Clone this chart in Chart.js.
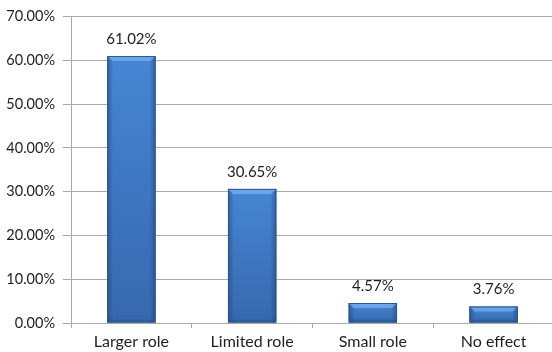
<!DOCTYPE html>
<html>
<head>
<meta charset="utf-8">
<script src="https://cdn.jsdelivr.net/npm/chart.js@4.4.1/dist/chart.umd.min.js"></script>
<style>
  html, body { margin: 0; padding: 0; background: #fff; overflow: hidden; }
  #wrap { position: relative; width: 554px; height: 352px; }
</style>
</head>
<body>
<div id="wrap"><canvas id="chart"></canvas></div>
<script>
// Dades llegides del gràfic
const categories = ['Larger role', 'Limited role', 'Small role', 'No effect'];
const shares     = [61.02, 30.65, 4.57, 3.76];
const yTicks     = [0, 10, 20, 30, 40, 50, 60, 70];

const FONT = "Lato, 'Open Sans', sans-serif";
const GRID = '#a9a9a9';
const TEXT = '#1e1e1e';

// Bisell estil Excel sobre cada barra
const bevelPlugin = {
  id: 'bevel',
  afterDatasetsDraw(chart) {
    const ctx = chart.ctx;
    chart.getDatasetMeta(0).data.forEach(bar => {
      const { x, y, base, width } = bar.getProps(['x', 'y', 'base', 'width'], true);
      const l = x - width / 2, r = x + width / 2;
      const h = base - y;
      const b = Math.min(5, h / 2);
      ctx.save();
      // cos
      const g = ctx.createLinearGradient(0, y, 0, base);
      g.addColorStop(0, '#4686d3');
      g.addColorStop(1, '#3768ae');
      ctx.fillStyle = g;
      ctx.fillRect(l, y, width, h);
      // vores laterals
      const gl = ctx.createLinearGradient(l, 0, l + 6, 0);
      gl.addColorStop(0, 'rgba(25,60,115,0.5)');
      gl.addColorStop(1, 'rgba(25,60,115,0)');
      ctx.fillStyle = gl;
      ctx.fillRect(l, y, 6, h);
      const gr = ctx.createLinearGradient(r, 0, r - 6, 0);
      gr.addColorStop(0, 'rgba(25,60,115,0.5)');
      gr.addColorStop(1, 'rgba(25,60,115,0)');
      ctx.fillStyle = gr;
      ctx.fillRect(r - 6, y, 6, h);
      // faceta superior
      ctx.beginPath();
      ctx.moveTo(l, y);
      ctx.lineTo(r, y);
      ctx.lineTo(r - b, y + b);
      ctx.lineTo(l + b, y + b);
      ctx.closePath();
      ctx.fillStyle = 'rgba(120,175,240,0.75)';
      ctx.fill();
      // faceta inferior
      ctx.beginPath();
      ctx.moveTo(l, base);
      ctx.lineTo(r, base);
      ctx.lineTo(r - 3, base - 3);
      ctx.lineTo(l + 3, base - 3);
      ctx.closePath();
      ctx.fillStyle = 'rgba(20,50,100,0.2)';
      ctx.fill();
      // contorn
      ctx.strokeStyle = '#2d5894';
      ctx.lineWidth = 1;
      ctx.strokeRect(l + 0.5, y + 0.5, width - 1, h - 1);
      ctx.restore();
    });
  }
};

// Etiquetes de valor sobre les barres
const labelPlugin = {
  id: 'valueLabels',
  afterDatasetsDraw(chart) {
    const ctx = chart.ctx;
    ctx.save();
    ctx.font = `15px ${FONT}`;
    ctx.fillStyle = TEXT;
    ctx.textAlign = 'center';
    ctx.textBaseline = 'middle';
    chart.getDatasetMeta(0).data.forEach((bar, i) => {
      ctx.fillText(shares[i].toFixed(2) + '%', bar.x, bar.y - 17);
    });
    ctx.restore();
  }
};

new Chart(document.getElementById('chart'), {
  type: 'bar',
  data: {
    labels: categories,
    datasets: [{
      data: shares,
      backgroundColor: '#3d78c4',
      borderWidth: 0,
      barPercentage: 0.4,
      categoryPercentage: 1.0,
    }]
  },
  options: {
    responsive: true,
    maintainAspectRatio: false,
    animation: false,
    layout: { padding: { top: 15, right: 0, left: 0, bottom: 0 } },
    plugins: {
      legend: { display: false },
      tooltip: { enabled: false },
    },
    scales: {
      x: {
        grid: { display: true, drawOnChartArea: false, drawTicks: true, tickLength: 5, color: GRID, offset: true },
        border: { display: true, color: GRID },
        ticks: { color: TEXT, font: { family: FONT, size: 16 }, padding: 4, maxRotation: 0 },
        afterFit: scale => { scale.height = 29; },
      },
      y: {
        min: 0,
        max: 70,
        afterBuildTicks: scale => { scale.ticks = yTicks.map(v => ({ value: v })); },
        grid: { color: GRID, tickLength: 8 },
        border: { display: true, color: GRID },
        ticks: {
          color: TEXT,
          font: { family: FONT, size: 14.5 },
          padding: 8,
          callback: v => v.toFixed(2) + '%',
        },
        afterFit: scale => { scale.width = 71; },
      }
    }
  },
  plugins: [bevelPlugin, labelPlugin]
});
</script>
</body>
</html>
